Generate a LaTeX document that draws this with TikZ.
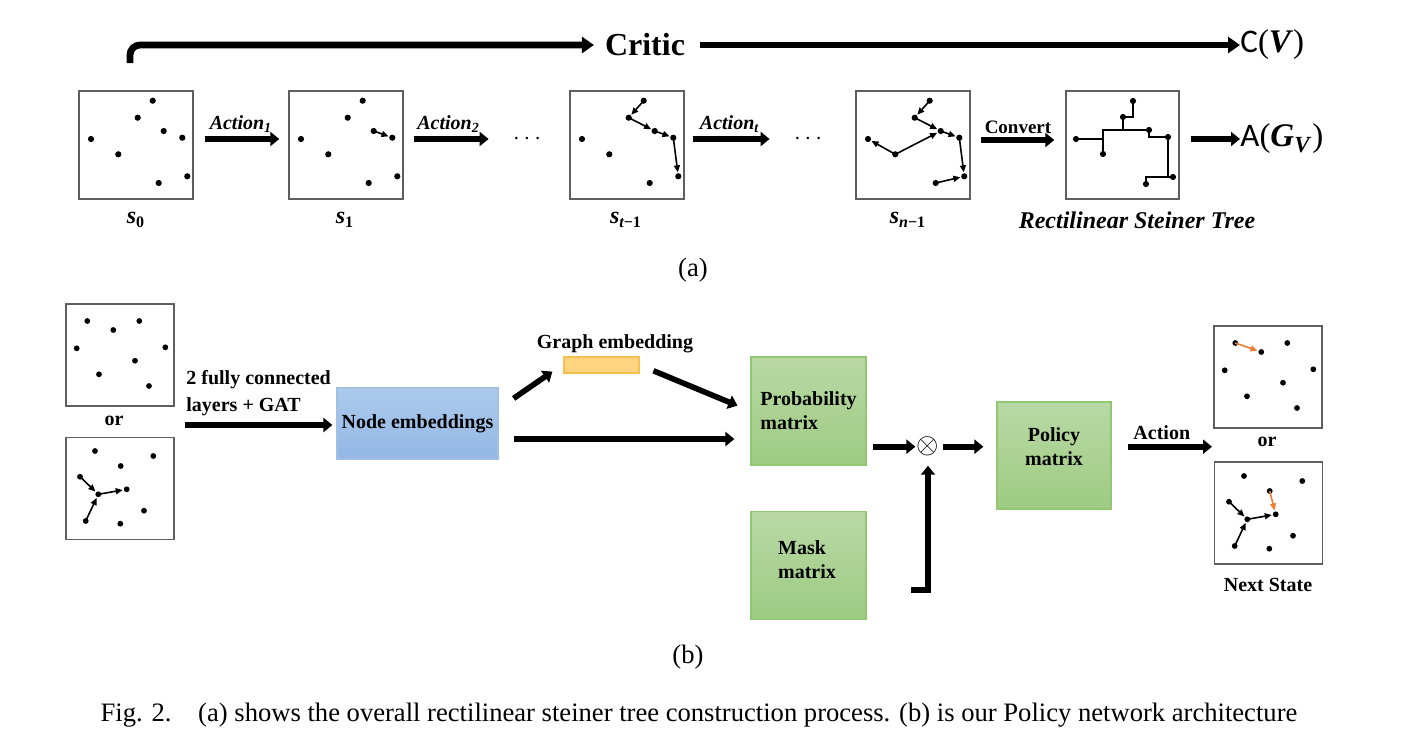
\documentclass[tikz,border=0pt]{standalone}
\usepackage{fontspec}
\setmainfont{Liberation Serif}
\newfontfamily\calibri{Carlito}
\usetikzlibrary{arrows.meta, positioning, calc}

\definecolor{boxgray}{RGB}{95,95,95}
\definecolor{greentop}{RGB}{184,217,165}
\definecolor{greenbot}{RGB}{158,203,130}
\definecolor{greenline}{RGB}{146,198,112}
\definecolor{bluetop}{RGB}{173,202,236}
\definecolor{bluebot}{RGB}{146,183,229}
\definecolor{blueline}{RGB}{160,192,228}
\definecolor{orangefill}{RGB}{255,212,128}
\definecolor{orangeline}{RGB}{247,190,80}
\definecolor{actorange}{RGB}{237,125,49}

\tikzset{
  statebox/.style={draw=boxgray, line width=0.7pt, minimum width=57pt, minimum height=54pt, inner sep=0pt},
  inbox/.style={statebox, minimum width=54pt, minimum height=51pt},
  boxtext/.style={font=\fontsize{10}{12}\selectfont\bfseries, align=left, inner sep=0pt},
  greenbox/.style={boxtext, draw=greenline, line width=0.6pt, top color=greentop, bottom color=greenbot, minimum width=57.5pt, minimum height=54pt},
  bluebox/.style={boxtext, draw=blueline, line width=0.6pt, top color=bluetop, bottom color=bluebot, minimum width=80.5pt, minimum height=35.5pt},
  orangebox/.style={draw=orangeline, line width=0.6pt, fill=orangefill, minimum width=37.5pt, minimum height=8pt, inner sep=0pt},
  edge/.style={line width=0.8pt, -{Triangle[length=3.5pt,width=3pt]}, shorten >=2pt},
  redge/.style={edge, draw=actorange},
  steiner/.style={line width=0.9pt},
  bigarrow/.style={line width=2.8pt, -{Triangle[length=4.5pt,width=7pt]}},
  critic/.style={line width=3.4pt, -{Triangle[length=6pt,width=8pt]}},
  lbl/.style={font=\fontsize{10}{12}\selectfont\bfseries, inner sep=1pt},
  actlbl/.style={font=\fontsize{10}{12}\selectfont\bfseries\itshape, inner sep=1pt},
  statelabel/.style={font=\fontsize{12}{14}\selectfont\bfseries\itshape},
  bigmath/.style={font=\fontsize{16.5}{18}\selectfont, inner sep=0pt},
  captext/.style={font=\fontsize{13.3}{15}\selectfont},
  etc/.style={font=\fontsize{13}{14}\selectfont, inner sep=1pt},
}

\begin{document}
\begin{tikzpicture}[x=0.5pt, y=-0.5pt]
\useasboundingbox (0,0) rectangle (1420,740);

%//(a) the construction process
\node[statebox] (sa) at (136,145) {};
\node[statebox] (sb) at (346,145) {};
\node[statebox] (sc) at (627,145) {};
\node[statebox] (sd) at (913,145) {};
\node[statebox, minimum width=56.5pt] (rst) at (1122.5,145) {};

\foreach \b/\ox in {sa/79, sb/289, sc/570, sd/856}
{
\foreach \i/\px/\py in {1/12/48, 2/73.7/9.7, 3/58.7/26.7, 4/84.7/40, 5/103.3/46.7, 6/39.3/63.3, 7/108.3/85.3, 8/79.7/92}
{
\coordinate (\b\i) at (\ox+\px, 91+\py);
\fill (\b\i) circle (1.55pt);
}
}

\draw[edge] (sb4) -- (sb5);

\draw[edge] (sc2) -- (sc3);
\draw[edge] (sc3) -- (sc4);
\draw[edge] (sc4) -- (sc5);
\draw[edge] (sc5) -- (sc7);

\draw[edge] (sd2) -- (sd3);
\draw[edge] (sd3) -- (sd4);
\draw[edge] (sd4) -- (sd5);
\draw[edge] (sd5) -- (sd7);
\draw[edge] (sd6) -- (sd1);
\draw[edge] (sd6) -- (sd4);
\draw[edge] (sd8) -- (sd7);

%//rectilinear tree
\foreach \i/\px/\py in {1/1076/139, 2/1133/101, 3/1123/117, 4/1149/130, 5/1168/137, 6/1103/154, 7/1173/177, 8/1146/184}
\coordinate (r\i) at (\px,\py);
\draw[steiner] (r1) -- (r1 -| r6);
\draw[steiner] (r6) -- (r6 |- r4) -- (r4);
\draw[steiner] (r3) -- (r3 |- r4);
\draw[steiner] (r3) -| (r2);
\draw[steiner] (r4) |- (r5);
\draw[steiner] (r5) -- (r5 |- r7);
\draw[steiner] (r8) |- (r7);
\foreach \i in {1,...,8}
\fill (r\i) circle (1.55pt);

\node[etc] (dotsa) at (527,139) {$\cdots$};
\node[etc] (dotsb) at (808,139) {$\cdots$};

\draw[bigarrow, shorten <=5.5pt, shorten >=4.5pt] ([yshift=3pt]sa.east) -- node[above=1pt, actlbl] {Action\textsubscript{1}} ([yshift=3pt]sb.west);
\draw[bigarrow, shorten <=5pt, shorten >=11pt] ([yshift=3pt]sb.east) -- node[pos=0.42, above=1pt, actlbl] {Action\textsubscript{2}} (dotsa.west);
\draw[bigarrow, shorten <=4pt, shorten >=11pt] ([yshift=3pt]sc.east) -- node[pos=0.42, above=1pt, actlbl] {Action\textsubscript{\textit{t}}} (dotsb.west);
\draw[bigarrow, shorten <=5pt, shorten >=5.5pt] ([yshift=2.5pt]sd.east) -- node[above=1pt, lbl, font=\fontsize{9.5}{11}\selectfont\bfseries] {Convert} ([yshift=2.5pt]rst.west);

\node[bigmath, anchor=west] (agv) at (1240,139) {{\calibri A}(\textbf{\textit{G}}\textsubscript{\textbf{\textit{V}}})};
\draw[bigarrow, shorten <=5.5pt] (rst.east |- agv) -- (agv.west);

\node[statelabel] (la) at (136,220) {s\textsubscript{\upshape 0}};
\node[statelabel] (lb) at (345,220) {s\textsubscript{\upshape 1}};
\node[statelabel] (lc) at (626,220) {s\textsubscript{t\upshape −1}};
\node[statelabel] (ld) at (908,220) {s\textsubscript{n\upshape −1}};
\node[statelabel] (lrst) at (1137,220) {Rectilinear Steiner Tree};

%//critic
\coordinate (cstart) at (130,63);
\node[font=\fontsize{16}{18}\selectfont\bfseries] (critic) at (645,45) {Critic};
\node[bigmath, anchor=west] (cv) at (1240,45) {{\calibri C}(\textbf{\textit{V}})};
\draw[critic, rounded corners=5pt, shorten >=2pt] (cstart) |- (critic.west);
\draw[critic, shorten <=4pt] (critic.east) -- (cv.west);

\node[captext] (capa) at (693,270) {(a)};

%//(b) the policy network
\node[inbox] (ina) at (120,355) {};
\node[lbl] (ora) at (114,421) {or};
\node[inbox] (inb) at (120,488.5) {};
\node[inbox] (nsa) at (1268,377) {};
\node[lbl] (orb) at (1267,441.7) {or};
\node[inbox] (nsb) at (1268.5,513) {};
\node[lbl] (next) at (1268,585) {Next State};

\foreach \b/\ox/\oy in {ina/66/304, nsa/1214/326}
{
\foreach \i/\px/\py in {1/21.3/17, 2/47.3/26, 3/73.3/17, 4/10.7/44.3, 5/99.3/43.3, 6/69/56.7, 7/33/70.3, 8/83/82}
{
\coordinate (\b\i) at (\ox+\px, \oy+\py);
\fill (\b\i) circle (1.45pt);
}
}
\foreach \b/\ox/\oy in {inb/66/437, nsb/1215/462}
{
\foreach \i/\px/\py in {1/29/14, 2/87.3/19, 3/54.7/29, 4/14/39.7, 5/32.3/57.3, 6/60.7/52.3, 7/78/73.7, 8/19.7/84, 9/54.3/86.7}
{
\coordinate (\b\i) at (\ox+\px, \oy+\py);
\fill (\b\i) circle (1.45pt);
}
\draw[edge] (\b4) -- (\b5);
\draw[edge] (\b8) -- (\b5);
\draw[edge] (\b5) -- (\b6);
}
\draw[redge] (nsa1) -- (nsa2);
\draw[redge] (nsb3) -- (nsb6);

\coordinate (fcin) at (185,425);
\node[lbl, anchor=west, align=left, font=\fontsize{10}{13.3}\selectfont\bfseries] (fc) at (184,393) {2 fully connected\\layers + GAT};
\node[bluebox] (ne) at (417.5,423.5) {Node embeddings};
\draw[bigarrow, shorten >=2pt] (fcin) -- (fcin -| ne.west);

\node[lbl] (gelbl) at (615,344) {Graph embedding};
\node[orangebox] (ge) at (601.5,365) {};

\node[greenbox] (pm) at (808.5,411) {Probability\\matrix};
\node[greenbox] (mm) at (808.5,565.5) {};
\node[boxtext] (mmtxt) at (807,560) {Mask\\matrix};

\draw[bigarrow] ([xshift=7.5pt, yshift=-5.5pt]ne.north east) -- ([xshift=-5.5pt, yshift=1pt]ge.south west);
\draw[bigarrow, shorten <=7.5pt, shorten >=7pt] (ge.east) -- (pm.west);
\draw[bigarrow, shorten <=7.5pt, shorten >=8pt] ([yshift=-7.75pt]ne.east) -- ([yshift=-7.75pt]ne.east -| pm.west);

\node[inner sep=0pt, font=\fontsize{13.5}{14}\selectfont] (ox) at (928,446.7) {$\otimes$};
\draw[bigarrow, shorten <=3pt, shorten >=0.5pt] (pm.east |- ox) -- (ox.west);
\coordinate (mk) at (911,590);
\draw[bigarrow, shorten >=4.5pt] (mk) -| (ox.south);

\node[greenbox, minimum width=57pt, minimum height=53.5pt] (pol) at (1054,455.5) {};
\node[boxtext, align=center] (poltxt) at (1054,447) {Policy\\matrix};
\draw[bigarrow, shorten <=1.5pt, shorten >=6.5pt] (ox.east) -- (ox.east -| pol.west);

\coordinate (actend) at (1212,446.7);
\draw[bigarrow, shorten <=8pt] (actend -| pol.east) -- node[above=1pt, lbl] {Action} (actend);

\node[captext] (capb) at (688,657) {(b)};
\node[captext] (caption) at (699,715) {Fig. 2.\quad(a) shows the overall rectilinear steiner tree construction process. (b) is our Policy network architecture};

\end{tikzpicture}
\end{document}
